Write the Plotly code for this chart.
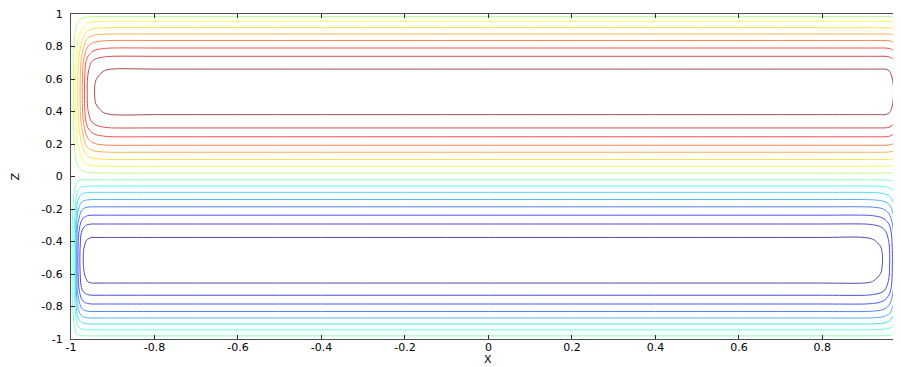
import plotly.graph_objects as go

# ---- data ----
# vertical coordinate grid and the field profile along z (read at x = 0)
z_grid = [-1.00, -0.95, -0.90, -0.85, -0.80, -0.75, -0.70, -0.65, -0.60, -0.55,
          -0.50, -0.45, -0.40, -0.35, -0.30, -0.25, -0.20, -0.15, -0.10, -0.05,
          0.00, 0.05, 0.10, 0.15, 0.20, 0.25, 0.30, 0.35, 0.40, 0.45,
          0.50, 0.55, 0.60, 0.65, 0.70, 0.75, 0.80, 0.85, 0.90, 0.95, 1.00]
z_profile = [0.0, -0.165, -0.34, -0.508, -0.651, -0.77, -0.88, -0.945, -0.975, -0.99,
             -0.995, -0.985, -0.96, -0.915, -0.83, -0.715, -0.60, -0.46, -0.32, -0.16,
             0.0, 0.15, 0.30, 0.44, 0.585, 0.70, 0.815, 0.91, 0.955, 0.98,
             0.99, 0.99, 0.975, 0.948, 0.90, 0.79, 0.664, 0.527, 0.362, 0.207, 0.0]

# wall boundary layers: distance from a wall and the damping factor
wall_dist = [0.0, 0.005, 0.01, 0.015, 0.02, 0.025, 0.03, 0.035, 0.04, 0.05, 0.06, 0.08, 0.10]
layer_thick = [0.0, 0.05, 0.16, 0.29, 0.40, 0.52, 0.64, 0.76, 0.84, 0.92, 0.96, 0.99, 1.0]
layer_thin = [0.0, 0.12, 0.30, 0.65, 0.79, 0.90, 0.95, 0.975, 0.99, 1.0, 1.0, 1.0, 1.0]

# interior x stations
x_interior = [-0.9, -0.8, -0.7, -0.6, -0.5, -0.4, -0.3, -0.2, -0.1, 0.0,
              0.1, 0.2, 0.3, 0.4, 0.5, 0.6, 0.7, 0.8, 0.9]

x_ticks = [-1, -0.8, -0.6, -0.4, -0.2, 0, 0.2, 0.4, 0.6, 0.8]
x_tick_labels = ["-1", "-0.8", "-0.6", "-0.4", "-0.2", "0", "0.2", "0.4", "0.6", "0.8"]
y_ticks = [-1, -0.8, -0.6, -0.4, -0.2, 0, 0.2, 0.4, 0.6, 0.8, 1]
y_tick_labels = ["-1", "-0.8", "-0.6", "-0.4", "-0.2", "0", "0.2", "0.4", "0.6", "0.8", "1"]

# ---- build the grid table ----
n_w = len(wall_dist) - 1
x_grid = ([-1 + d for d in wall_dist[:n_w]] + x_interior +
          [1 - d for d in reversed(wall_dist[:n_w])])
q_upper = layer_thick[:n_w] + [1.0] * len(x_interior) + list(reversed(layer_thin[:n_w]))
q_lower = layer_thin[:n_w] + [1.0] * len(x_interior) + list(reversed(layer_thick[:n_w]))

field = []
for zv, pv in zip(z_grid, z_profile):
    q = q_upper if zv > 0 else q_lower
    field.append([pv * qq for qq in q])

jet = [[0.0, "rgb(0,0,128)"], [0.125, "rgb(0,0,255)"], [0.375, "rgb(0,255,255)"],
       [0.625, "rgb(255,255,0)"], [0.875, "rgb(255,0,0)"], [1.0, "rgb(128,0,0)"]]

fig = go.Figure(go.Contour(
    x=x_grid, y=z_grid, z=field,
    colorscale=jet, zmin=-0.995, zmax=0.99,
    contours=dict(start=-0.9375, end=0.9375, size=0.125, coloring="lines"),
    line=dict(width=1), showscale=False, hoverinfo="skip", opacity=0.7,
))

font = dict(family="DejaVu Sans", size=11, color="black")
axis_common = dict(showgrid=False, zeroline=False, showline=True, linecolor="rgb(80,80,80)",
                   linewidth=1, ticks="inside", ticklen=4, tickcolor="rgb(40,40,40)",
                   tickfont=font, mirror="ticks", ticklabeloverflow="allow")
fig.update_xaxes(range=[-1, 0.986], tickvals=x_ticks, ticktext=x_tick_labels,
                 ticklabelstandoff=-2, **axis_common)
fig.update_yaxes(range=[-1, 1], tickvals=y_ticks, ticktext=y_tick_labels,
                 ticklabelstandoff=5, **axis_common)

fig.add_annotation(text="X", xref="x", yref="paper", x=0, y=-0.064, showarrow=False,
                   font=font, xanchor="center", yanchor="middle")
fig.add_annotation(text="Z", xref="paper", yref="paper", x=-0.0675, y=0.5, showarrow=False,
                   font=font, textangle=-90, xanchor="center", yanchor="middle")

# the page body adds an 8 px offset, so the figure is 8 px smaller on each axis
fig.update_layout(width=893, height=359, margin=dict(l=63, r=0, t=2, b=28),
                  paper_bgcolor="white", plot_bgcolor="white", showlegend=False)
fig.write_html("out.html")
